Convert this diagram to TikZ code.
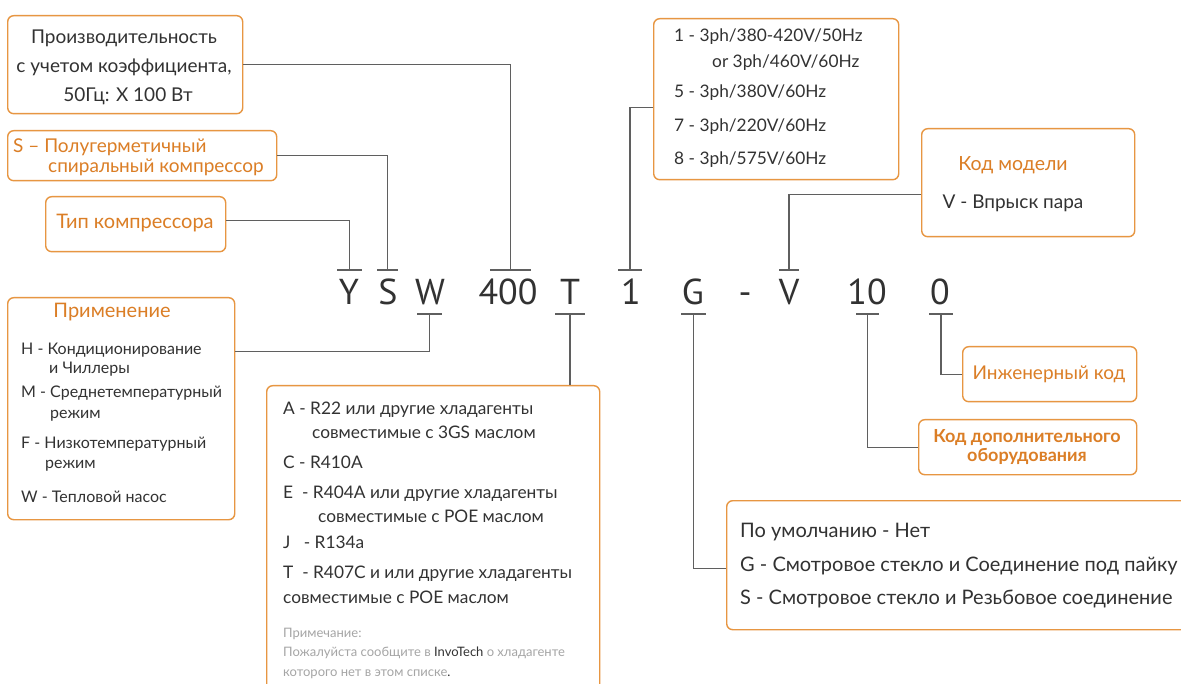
\documentclass[tikz,border=0pt]{standalone}
\usepackage{fontspec}
\setmainfont{Lato}
\newfontfamily\letras{PT Sans}
\usetikzlibrary{calc}
\definecolor{borde}{RGB}{231,150,66}
\definecolor{naranja}{RGB}{219,126,38}
\definecolor{gris}{RGB}{95,95,95}
\definecolor{oscuro}{RGB}{50,50,50}
\definecolor{claro}{RGB}{165,165,165}
\newcommand{\tam}[2]{\fontsize{#1}{#2}\selectfont}
\newcommand{\barra}[2]{\draw[linea] ($(#1)+(-#2,0)$) -- ($(#1)+(#2,0)$);}
\tikzset{
  caja/.style={draw=borde, line width=1.4pt, rounded corners=6pt, inner sep=0pt, anchor=north west},
  linea/.style={draw=gris, line width=1.2pt},
  letra/.style={font=\letras\tam{36}{36}, text=oscuro, inner sep=0pt, anchor=base},
  texto/.style={text=oscuro, inner sep=0pt, align=left, anchor=west},
  titulo/.style={text=naranja, inner sep=0pt},
}
\begin{document}
\begin{tikzpicture}[x=1pt,y=-1pt]
    \fill[white] (0,0) rectangle (1181,684);
    \clip (0,0) rectangle (1181,684);
    %%%% CAJAS!!!
    \node[caja, minimum width=235, minimum height=98] at (7,15) (prod) {};
    \node[caja, minimum width=269, minimum height=50] at (7,130) (espiral) {};
    \node[caja, minimum width=180, minimum height=55] at (45,196) (tipo) {};
    \node[caja, minimum width=227, minimum height=222] at (7,297) (aplic) {};
    \node[caja, minimum width=333, minimum height=330] at (266,385) (refri) {};
    \node[caja, minimum width=245, minimum height=161] at (653,18) (volt) {};
    \node[caja, minimum width=213, minimum height=108] at (921,128) (modelo) {};
    \node[caja, minimum width=174, minimum height=55] at (962,346) (ing) {};
    \node[caja, minimum width=218, minimum height=55] at (918,419) (adic) {};
    \node[caja, minimum width=480, minimum height=129] at (726,500) (opc) {};
    %textos de arriba
    \node[inner sep=0pt, align=center, text=oscuro, font=\tam{19}{29}] at (124,67) (prodtxt) {Производительность\\с учетом коэффициента,\\\hspace*{8pt}50Гц: Х 100 Вт};
    \node[texto, text=naranja, font=\tam{19}{20}] at (13,157) (esptxt) {S – Полугерметичный\\\hspace*{35pt}спиральный компрессор};
    \node[titulo, font=\tam{20}{20}] at (135,223) (tipotxt) {Тип компрессора};
    \node[texto, font=\tam{17.3}{26}] at (674,98) (volttxt) {1 - 3ph/380-420V/50Hz\\\hspace*{38pt}or 3ph/460V/60Hz\\[4pt]5 - 3ph/380V/60Hz\\[8pt]7 - 3ph/220V/60Hz\\[7pt]8 - 3ph/575V/60Hz};
    \node[titulo, font=\tam{19.5}{20}] at (1013,165) (modelotit) {Код модели};
    \node[inner sep=0pt, text=oscuro, font=\tam{19}{20}] at (1013,203) (modelotxt) {V - Впрыск пара};
    %%%% LETRAS
    \node[letra] at (349,305) (ly) {Y};
    \node[letra] at (388,305) (ls) {S};
    \node[letra] at (430,305) (lw) {W};
    \node[letra] at (508,305) (l400) {400};
    \node[letra] at (570,305) (lt) {T};
    \node[letra] at (631,305) (l1) {1};
    \node[letra] at (693,305) (lg) {G};
    \node[letra] at (745,305) (lguion) {-};
    \node[letra] at (789,305) (lv) {V};
    \node[letra] at (867,305) (l10) {10};
    \node[letra] at (940,305) (l0) {0};
    %barras
    \coordinate (by) at (349.5,270);
    \coordinate (bs) at (387.5,270);
    \coordinate (b400) at (510.5,270);
    \coordinate (b1) at (630,270);
    \coordinate (bv) at (789,270);
    \coordinate (bw) at (429.5,314);
    \coordinate (bt) at (570,314);
    \coordinate (bg) at (693.5,314);
    \coordinate (b10) at (867.5,314);
    \coordinate (b0) at (941,314);
    \barra{by}{12.5} \barra{bs}{10.5} \barra{b400}{20.5} \barra{b1}{12} \barra{bv}{10}
    \barra{bw}{12.5} \barra{bt}{15} \barra{bg}{12.5} \barra{b10}{11.5} \barra{b0}{12}
    %lineas
    \draw[linea] (prod.east) -| (b400);
    \draw[linea] (espiral.east) -| (bs);
    \draw[linea] ($(tipo.east)+(0,-4)$) -| (by);
    \draw[linea] ($(volt.west)+(0,8)$) -| (b1);
    \draw[linea] ($(modelo.west)+(0,12)$) -| (bv);
    \draw[linea] ($(aplic.east)+(0,-57)$) -| (bw);
    \draw[linea] (bt) -- (bt |- refri.north);
    \draw[linea] (bg) |- ($(opc.west)+(0,3.5)$);
    \draw[linea] (b10) |- (adic.west);
    \draw[linea] (b0) |- (ing.west);
    %textos de abajo
    \node[titulo, font=\tam{20}{20}] at (112,312) (aplictit) {Применение};
    \node[texto, font=\tam{16}{20}] at (21,423) (aplictxt) {H - Кондиционирование\\[-1pt]\hspace*{28pt}и Чиллеры\\[4pt]M - Среднетемпературный\\[1pt]\hspace*{29pt}режим\\[10pt]F - Низкотемпературный\\\hspace*{24pt}режим\\[14pt]W - Тепловой насос};
    \node[texto, font=\tam{17.3}{24}] at (283,503) (refritxt) {A - R22 или другие хладагенты\\\hspace*{29pt}совместимые с 3GS маслом\\[6pt]C - R410A\\[6pt]E\ \ - R404A или другие хладагенты\\\hspace*{35pt}совместимые с POE маслом\\[2pt]J\ \ \ - R134a\\[6pt]T\ \ - R407C и или другие хладагенты\\[1pt]совместимые с POE маслом};
    \node[texto, text=claro, font=\tam{13}{19.5}] at (283,653) (nota) {Примечание:\\Пожалуйста сообщите в {\color{oscuro}InvoTech} о хладагенте\\которого нет в этом списке{\color{oscuro}.}};
    \node[titulo, font=\tam{19}{20}] at (1049,374) (ingtxt) {Инженерный код};
    \node[titulo, align=center, font=\bfseries\tam{18}{19}] at (1027,447) (adictxt) {Код дополнительного\\оборудования};
    \node[texto, font=\tam{20}{33.5}] at (740,566) (opctxt) {По умолчанию - Нет\\G - Смотровое стекло и Соединение под пайку\\S - Смотровое стекло и Резьбовое соединение};
\end{tikzpicture}
\end{document}
